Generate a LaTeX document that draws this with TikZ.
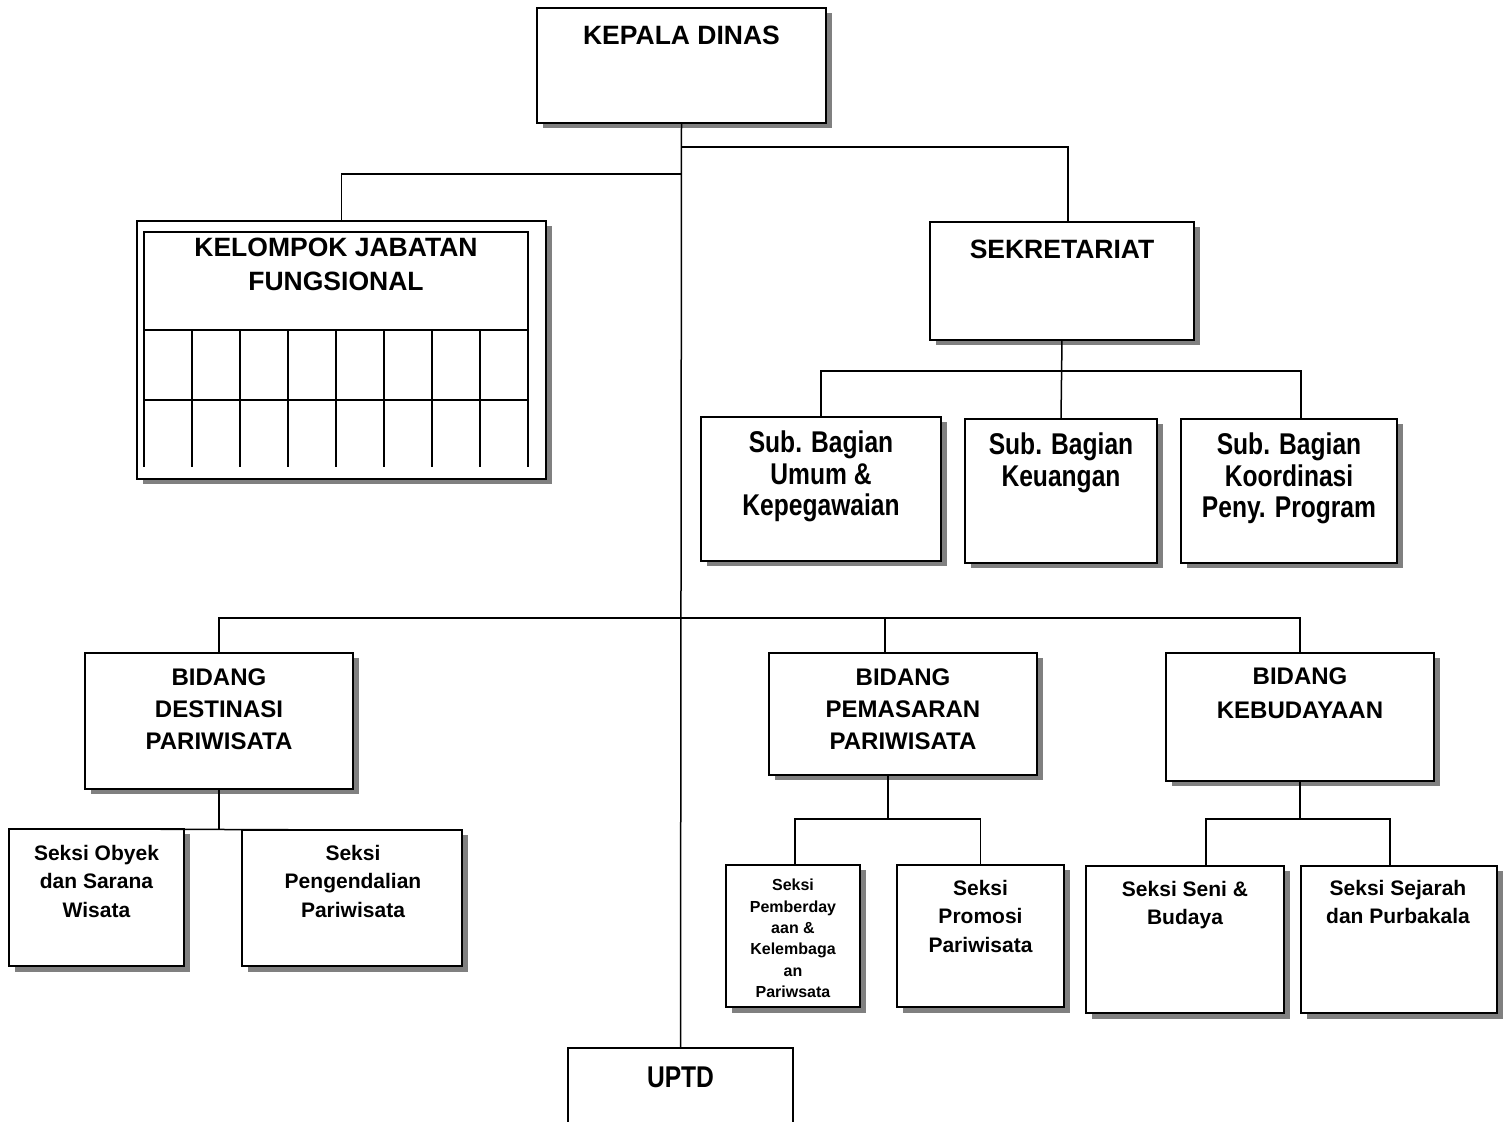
\documentclass[tikz,border=0pt]{standalone}
\usepackage{fontspec}
\setmainfont{Liberation Sans}
\newfontfamily\narrowfont[FakeStretch=0.82]{Liberation Sans}
\usetikzlibrary{shadows,calc}

\begin{document}
\begin{tikzpicture}[x=0.5pt,y=-0.5pt,
  box/.style={draw,line width=1pt,fill=white,inner sep=0pt,outer sep=0pt,anchor=north west,
    drop shadow={shadow xshift=2.75pt,shadow yshift=-2.75pt,fill=black!50,opacity=1}},
  lbl/.style={anchor=north,align=center,inner sep=0pt,outer sep=0pt},
  bigtxt/.style={font=\bfseries\fontsize{13.25}{17}\selectfont},
  bidtxt/.style={font=\bfseries\fontsize{12}{16}\selectfont},
  subtxt/.style={font=\narrowfont\bfseries\fontsize{15}{15.75}\selectfont},
  seksitxt/.style={font=\bfseries\fontsize{10.5}{14.1}\selectfont},
  tinytxt/.style={font=\bfseries\fontsize{8}{10.7}\selectfont},
  grid/.style={line width=1pt},
  conn/.style={line width=0.75pt}]
\useasboundingbox (0,0) rectangle (1506,1122);

% boxes
\node[box,minimum width=144.5pt,minimum height=57.5pt] (kd) at (537,8) {};
\node[box,minimum width=204.5pt,minimum height=129pt] (kjf) at (137,221) {};
\node[box,minimum width=132pt,minimum height=59pt] (sek) at (930,222) {};
\node[box,minimum width=120pt,minimum height=72pt] (sub1) at (701,417) {};
\node[box,minimum width=96pt,minimum height=72pt] (sub2) at (965,419) {};
\node[box,minimum width=108pt,minimum height=72pt] (sub3) at (1181,419) {};
\node[box,minimum width=134pt,minimum height=68pt] (bd1) at (85,653) {};
\node[box,minimum width=134pt,minimum height=61pt] (bd2) at (769,653) {};
\node[box,minimum width=134pt,minimum height=64pt] (bd3) at (1166,653) {};
\node[box,minimum width=87.5pt,minimum height=68.5pt] (s1) at (9,829) {};
\node[box,minimum width=110pt,minimum height=68pt] (s2) at (242,830) {};
\node[box,minimum width=67pt,minimum height=71pt] (s3) at (726,865) {};
\node[box,minimum width=83.5pt,minimum height=71pt] (s4) at (897,865) {};
\node[box,minimum width=99pt,minimum height=73.5pt] (s5) at (1086,866) {};
\node[box,minimum width=98pt,minimum height=73.5pt] (s6) at (1301,866) {};
\node[inner sep=0pt,outer sep=0pt,anchor=north west,minimum width=112.5pt,minimum height=37pt] (uptd) at (568,1048) {};
\draw[grid] (uptd.south west) -- (uptd.north west) -- (uptd.north east) -- (uptd.south east);

% grid inside Kelompok Jabatan Fungsional
\draw[grid] (144,467) -- (144,232) -- (528,232) -- (528,467);
\draw[grid] (144,330) -- (528,330) (144,400) -- (528,400);
\foreach \x in {192,240,...,480} \draw[grid] (\x,330) -- (\x,467);

% texts
\node[lbl,bigtxt] (kdt) at (681.5,26.5) {KEPALA DINAS};
\node[lbl,bigtxt] (kjft) at (336,238.5) {KELOMPOK JABATAN\\FUNGSIONAL};
\node[lbl,bigtxt] (sekt) at (1062,240.5) {SEKRETARIAT};
\node[lbl,subtxt] (sub1t) at (821,431) {Sub. Bagian\\Umum \&\\Kepegawaian};
\node[lbl,subtxt] (sub2t) at (1061,433) {Sub. Bagian\\Keuangan};
\node[lbl,subtxt] (sub3t) at (1289,433) {Sub. Bagian\\Koordinasi\\Peny. Program};
\node[lbl,bidtxt] (bd1t) at (219,668.4) {BIDANG\\DESTINASI\\PARIWISATA};
\node[lbl,bidtxt] (bd2t) at (903,668.4) {BIDANG\\PEMASARAN\\PARIWISATA};
\node[lbl,bidtxt,font=\bfseries\fontsize{12}{17}\selectfont] (bd3t) at (1300,667.4) {BIDANG\\KEBUDAYAAN};
\node[lbl,seksitxt] (s1t) at (96.5,845.4) {Seksi Obyek\\dan Sarana\\Wisata};
\node[lbl,seksitxt] (s2t) at (353,845.4) {Seksi\\Pengendalian\\Pariwisata};
\node[lbl,tinytxt] (s3t) at (793,879.2) {Seksi\\Pemberday\\aan \&\\Kelembaga\\an\\Pariwsata};
\node[lbl,seksitxt] (s4t) at (980.5,880.4) {Seksi\\Promosi\\Pariwisata};
\node[lbl,seksitxt] (s5t) at (1185,881.4) {Seksi Seni \&\\Budaya};
\node[lbl,seksitxt] (s6t) at (1398,880.4) {Seksi Sejarah\\dan Purbakala};
\node[lbl,subtxt] (uptdt) at (680.5,1067) {UPTD};

% connectors
\coordinate (j1) at ($(kd.south)+(0,24)$);
\coordinate (j2) at ($(kd.south)+(0,51)$);
\coordinate (j4) at ($(kd.south)+(0,495)$);
\coordinate (j3) at ($(sek.south)+(0,31)$);
\coordinate (j5) at ($([xshift=-7.5pt]bd2.south)+(0,44)$);
\coordinate (j6) at ($(bd3.south)+(0,38)$);

\draw[conn] (kd.south) -- (uptd.north);
\draw[conn] (j1) -| ([xshift=3pt]sek.north);
\draw[conn] (j2) -| (kjf.north);
\draw[conn] (sek.south) -- (sub2.north);
\draw[conn] (sub1.north) |- (j3) -| ([xshift=6pt]sub3.north);
\draw[conn] (bd1.north) |- (j4) -| (bd3.north);
\draw[conn] (j4) -| ([xshift=-9pt]bd2.north);
\draw[conn] (bd1.south) -- (bd1.south |- s1.north);
\draw[conn] (s1.north) -- (s2.north);
\draw[conn] ([xshift=-7.5pt]bd2.south) -- (j5);
\draw[conn] ([xshift=1pt]s3.north) |- (j5) -| (s4.north);
\draw[conn] (bd3.south) -- (j6);
\draw[conn] ([xshift=10.5pt]s5.north) |- (j6) -| ([xshift=-4.5pt]s6.north);
\end{tikzpicture}
\end{document}
